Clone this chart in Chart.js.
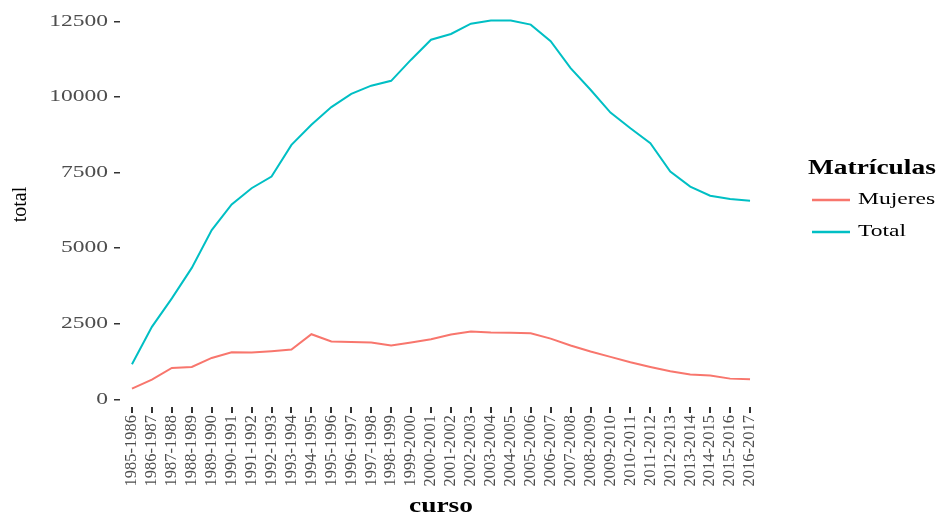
<!DOCTYPE html>
<html>
<head>
<meta charset="utf-8">
<script src="https://cdn.jsdelivr.net/npm/chart.js@4.4.1/dist/chart.umd.min.js"></script>
<style>
  html, body { margin: 0; background: #fff; }
  #marco { width: 936px; height: 516px; position: relative; }
  .prueba { position: absolute; left: -999px; top: 0; font-family: 'Liberation Serif'; }
</style>
</head>
<body>
<div id="marco"><canvas id="grafico"></canvas></div>
<span class="prueba">Matrículas <b>curso</b></span>
<script>
// --- DATOS ---
const cursos = ['1985-1986', '1986-1987', '1987-1988', '1988-1989', '1989-1990', '1990-1991',
  '1991-1992', '1992-1993', '1993-1994', '1994-1995', '1995-1996', '1996-1997', '1997-1998',
  '1998-1999', '1999-2000', '2000-2001', '2001-2002', '2002-2003', '2003-2004', '2004-2005',
  '2005-2006', '2006-2007', '2007-2008', '2008-2009', '2009-2010', '2010-2011', '2011-2012',
  '2012-2013', '2013-2014', '2014-2015', '2015-2016', '2016-2017'];
const mujeres = [355, 653, 1040, 1072, 1370, 1558, 1548, 1590, 1646, 2155, 1912, 1900, 1880, 1780,
  1880, 1990, 2145, 2245, 2210, 2200, 2185, 2010, 1780, 1580, 1405, 1230, 1072, 928, 818, 785, 685, 663];
const total = [1160, 2397, 3340, 4350, 5600, 6450, 6985, 7370, 8420, 9085, 9670, 10110, 10380, 10540,
  11240, 11900, 12090, 12430, 12540, 12540, 12400, 11850, 10960, 10245, 9490, 8970, 8480, 7540, 7040,
  6740, 6630, 6575];
const ticksY = [0, 2500, 5000, 7500, 10000, 12500];
const series = ['Mujeres', 'Total'];
const colores = ['#F8766D', '#00BFC4'];

const SERIF = "'Liberation Serif'";

// El texto horizontal del original sale ensanchado, lo imitamos escalando en x
function textoAncho(ctx, txt, x, y, font, color, align, sx) {
  ctx.save();
  ctx.font = font;
  ctx.fillStyle = color;
  ctx.textAlign = align;
  ctx.textBaseline = 'middle';
  ctx.translate(x, y);
  ctx.scale(sx, 1);
  ctx.fillText(txt, 0, 0);
  ctx.restore();
}

const textos = {
  id: 'textos',
  afterDraw(chart) {
    const ctx = chart.ctx;
    const ys = chart.scales.y;
    const area = chart.chartArea;

    // etiquetas del eje y
    ticksY.forEach(v => {
      textoAncho(ctx, String(v), 108, ys.getPixelForValue(v), '16px ' + SERIF, '#4d4d4d', 'right', 1.47);
    });

    // título del eje x
    textoAncho(ctx, 'curso', (area.left + area.right) / 2, 507, 'bold 20px ' + SERIF, '#000', 'center', 1.37);

    // leyenda
    textoAncho(ctx, 'Matrículas', 808, 169, 'bold 20px ' + SERIF, '#000', 'left', 1.37);
    chart.data.datasets.forEach((ds, i) => {
      const y = 200 + i * 32;
      ctx.save();
      ctx.strokeStyle = ds.borderColor;
      ctx.lineWidth = 2.5;
      ctx.beginPath();
      ctx.moveTo(812, y);
      ctx.lineTo(850, y);
      ctx.stroke();
      ctx.restore();
      textoAncho(ctx, ds.label, 858, y, '16px ' + SERIF, '#000', 'left', 1.47);
    });
  }
};

const datasets = series.map((nombre, i) => ({
  label: nombre,
  data: (i === 0 ? mujeres : total).map((v, j) => ({ x: j, y: v })),
  borderColor: colores[i],
  backgroundColor: colores[i],
  borderWidth: 2,
  pointRadius: 0,
  tension: 0,
  fill: false
}));

function dibujar() {
  new Chart(document.getElementById('grafico'), {
    type: 'line',
    data: { datasets },
    options: {
      responsive: true,
      maintainAspectRatio: false,
      animation: false,
      devicePixelRatio: 1,
      layout: { padding: { left: 0, right: 174, top: 2, bottom: 0 } },
      plugins: { legend: { display: false }, tooltip: { enabled: false } },
      scales: {
        x: {
          type: 'linear',
          min: -0.6,
          max: 31.6,
          border: { display: false },
          grid: { drawOnChartArea: false, drawTicks: true, tickLength: 6, color: '#333', lineWidth: 2 },
          ticks: {
            autoSkip: false,
            maxRotation: 90,
            minRotation: 90,
            padding: 2,
            color: '#4d4d4d',
            font: { family: SERIF, size: 16.5 },
            callback: v => cursos[v]
          },
          afterBuildTicks: s => { s.ticks = cursos.map((c, i) => ({ value: i })); },
          afterFit: s => { s.height = 109; }
        },
        y: {
          min: -254,
          max: 13149,
          border: { display: false },
          grid: { drawOnChartArea: false, drawTicks: true, tickLength: 6, color: '#333', lineWidth: 1.5 },
          ticks: { display: false },
          afterBuildTicks: s => { s.ticks = ticksY.map(v => ({ value: v })); },
          title: {
            display: true,
            text: 'total',
            color: '#000',
            font: { family: SERIF, size: 20 },
            padding: { top: 9, bottom: 0 }
          },
          afterFit: s => { s.width = 120; }
        }
      }
    },
    plugins: [textos]
  });
}

Promise.all([
  document.fonts.load('16px "Liberation Serif"'),
  document.fonts.load('bold 20px "Liberation Serif"')
]).then(dibujar, dibujar);
</script>
</body>
</html>
